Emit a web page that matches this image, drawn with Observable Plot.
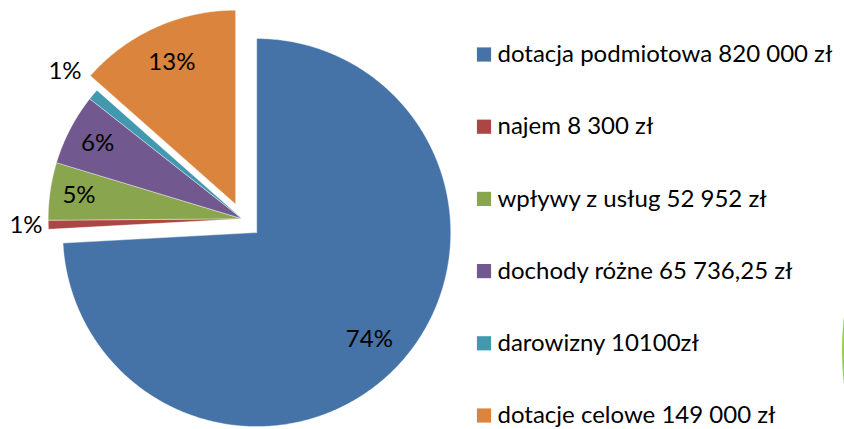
<!DOCTYPE html>
<html><head><meta charset="utf-8">
<script src="https://cdn.jsdelivr.net/npm/d3@7"></script>
<script src="https://cdn.jsdelivr.net/npm/@observablehq/plot@0.6"></script>
<style>html,body{margin:0;padding:0;background:#fff;overflow:hidden}</style>
</head><body><div id="chart"></div>
<script>
const categories = ["dotacja podmiotowa 820 000 zł","najem 8 300 zł","wpływy z usług 52 952 zł","dochody różne 65 736,25 zł","darowizny 10100zł","dotacje celowe 149 000 zł"];
const values = [820000, 8300, 52952, 65736.25, 10100, 149000];
const colors = ["#4572A7","#AA4643","#89A54E","#71588F","#4198AF","#DB843D"];
const explode = [20, 0, 0, 0, 0, 16];
const labelRadius = [0.8, 1.115, 0.85, 0.84, 1.19, 0.8];

const W = 844, H = 429, cx = 241.7, cy = 218.3, R = 194;
const total = d3.sum(values);
const arcs = d3.pie().sort(null).startAngle(0).endAngle(2 * Math.PI)(values);
const pt = (ox, oy, a, r) => ({x: ox + r * Math.sin(a), y: oy - r * Math.cos(a)});
const poly = [], labels = [];
arcs.forEach((a, i) => {
  const mid = (a.startAngle + a.endAngle) / 2;
  const o = pt(cx, cy, mid, explode[i]);
  poly.push({key: categories[i], ...o});
  const n = Math.max(2, Math.ceil((a.endAngle - a.startAngle) / (Math.PI / 360)));
  for (let k = 0; k <= n; k++) {
    const ang = a.startAngle + (a.endAngle - a.startAngle) * k / n;
    poly.push({key: categories[i], ...pt(o.x, o.y, ang, R)});
  }
  poly.push({key: categories[i], ...o});
  const l = pt(o.x, o.y, mid, R * labelRadius[i]);
  labels.push({...l, text: Math.round(values[i] / total * 100) + "%"});
});
const legend = categories.map((c, i) => ({key: c, y: 54 + i * 72.2}));

const chart = Plot.plot({
  width: W, height: H, margin: 0,
  x: {domain: [0, W], range: [0, W], axis: null},
  y: {domain: [0, H], range: [0, H], axis: null},
  color: {domain: categories, range: colors},
  style: {fontFamily: "Lato, 'Open Sans', sans-serif", background: "white", overflow: "hidden"},
  marks: [
    Plot.dot([{x: 1131.5, y: 350}], {x: "x", y: "y", r: 290, fill: "#8fd14f"}),
    Plot.line(poly, {x: "x", y: "y", z: "key", fill: "key", stroke: "white", strokeWidth: 0.4}),
    Plot.text(labels, {x: "x", y: "y", text: "text", fontSize: 24, fill: "#000"}),
    Plot.dot(legend, {x: 483.5, y: "y", symbol: "square", r: 8, fill: "key"}),
    Plot.text(legend, {x: 497, y: "y", text: "key", textAnchor: "start", fontSize: 24, fill: "#000"})
  ]
});
document.getElementById("chart").append(chart);
</script></body></html>
